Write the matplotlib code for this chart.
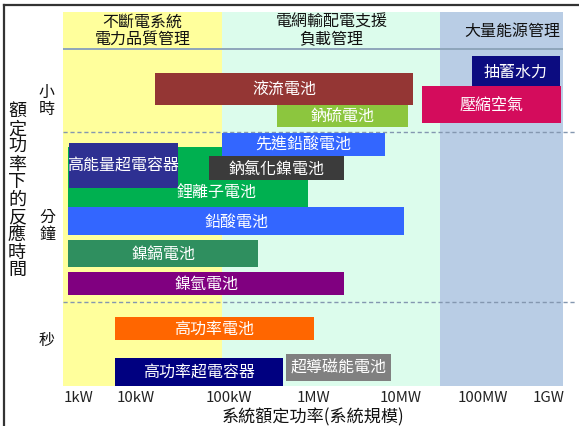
import numpy as np
import matplotlib

matplotlib.use("Agg")
import matplotlib.pyplot as plt
from matplotlib.lines import Line2D

plt.rcParams["font.family"] = ["Noto Sans CJK TC", "DejaVu Sans"]

# Technologies: name, rated power range (W), bar colour
names = [
    "液流電池", "鈉硫電池", "抽蓄水力", "壓縮空氣",
    "鋰離子電池", "高能量超電容器", "先進鉛酸電池", "鈉氯化鎳電池",
    "鉛酸電池", "鎳鎘電池", "鎳氫電池",
    "高功率電池", "高功率超電容器", "超導磁能電池",
]
p_min_w = [16e3, 370e3, 73e6, 18e6,
           680, 700, 84e3, 61e3,
           680, 680, 680,
           4.3e3, 4.3e3, 480e3]
p_max_w = [14e6, 12e6, 1.47e9, 1.5e9,
           870e3, 28e3, 6.6e6, 2.25e6,
           11e6, 220e3, 2.25e6,
           1.03e6, 440e3, 7.7e6]
colors = ["#943634", "#8cc63e", "#0c0c80", "#d40c5c",
          "#00b050", "#2e3092", "#3366ff", "#3b3b3b",
          "#3366ff", "#2f8f5f", "#800080",
          "#ff6600", "#000080", "#808080"]

# vertical lanes (top, bottom) on the response-time axis, top = 13, bottom = 387
lane_top = [74, 106, 57, 87, 148, 144, 134, 157, 208, 241, 273, 318, 359, 355]
lane_bot = [106, 128, 87, 124, 208, 189, 157, 181, 236, 268, 296, 341, 387, 382]

tick_w = [1e3, 1e4, 1e5, 1e6, 1e7, 1e8, 1e9]
tick_labels = ["1kW", "10kW", "100kW", "1MW", "10MW", "100MW", "1GW"]

# application zones along the power axis
zone_edges_w = [550, 85e3, 3e7, 1.63e9]
zone_colors = ["#ffff9c", "#dcfcec", "#b9cde5"]
zone_titles = ["不斷電系統\n電力品質管理", "電網輸配電支援\n負載管理", "大量能源管理"]
title_shift = [0, 0, 11]

band_labels = ["小\n時", "分\n鐘", "秒"]
band_y = [101, 226, 341]

# decades are not evenly spaced on this axis: log10(W) -> position along axis
DECADES = np.arange(2, 11)
DECADE_POS = np.array([20, 78, 136, 229, 313, 401, 483, 549, 615], dtype=float)


def fwd(x):
    x = np.maximum(np.asarray(x, dtype=float), 1e-12)
    return np.interp(np.log10(x), DECADES, DECADE_POS)


def inv(p):
    return 10 ** np.interp(np.asarray(p, dtype=float), DECADE_POS, DECADES)


def mid(lo, hi, shift=0):
    return inv((fwd(lo) + fwd(hi)) / 2 + shift)


fig = plt.figure(figsize=(5.79, 4.27), dpi=100)
ax = fig.add_axes([63 / 579, 40 / 427, 500 / 579, 374 / 427])
ax.set_xscale("function", functions=(fwd, inv))
ax.set_xlim(zone_edges_w[0], zone_edges_w[-1])
ax.set_ylim(387, 13)

for lo, hi, c in zip(zone_edges_w[:-1], zone_edges_w[1:], zone_colors):
    ax.axvspan(lo, hi, color=c, lw=0, zorder=0)

# header strip
ax.axhline(50, color="#8ea5ba", lw=1.4, zorder=1)
for i, title in enumerate(zone_titles):
    lo, hi = zone_edges_w[i], zone_edges_w[i + 1]
    ax.text(mid(lo, hi, title_shift[i]), 31, title, ha="center", va="center",
            fontsize=11.5, linespacing=1.05, color="#111111")

# dashed separators between hours / minutes / seconds
for y in (133, 303):
    ax.axhline(y, xmin=0, xmax=1.024, color="#8497b0", lw=1.0,
               ls=(0, (3, 2)), clip_on=False, zorder=1)

for i, name in enumerate(names):
    lo, hi = p_min_w[i], p_max_w[i]
    top, bot = lane_top[i], lane_bot[i]
    ax.barh((top + bot) / 2, hi - lo, left=lo, height=bot - top,
            color=colors[i], lw=0, zorder=2 + i * 0.01)
    tx, ty = mid(lo, hi), (top + bot) / 2
    if name == "鋰離子電池":
        # label sits in the part of the bar left uncovered
        tx, ty = 74e3, 192
    ax.text(tx, ty, name, ha="center", va="center", color="white",
            fontsize=11.5, zorder=3)

ax.set_xticks(tick_w)
ax.set_xticklabels(tick_labels)
ax.minorticks_off()
ax.tick_params(axis="x", length=0, pad=3, labelsize=10.8, labelcolor="#222222")
ax.set_yticks([])
for s in ax.spines.values():
    s.set_visible(False)

ax.set_xlabel("系統額定功率(系統規模)", fontsize=12.3, color="#111111", labelpad=2)

ytr = ax.get_yaxis_transform()
for lab, y in zip(band_labels, band_y):
    ax.text(-0.032, y, lab, transform=ytr, ha="center", va="center",
            fontsize=11.5, linespacing=1.0, color="#111111")
ax.text(-0.092, 191, "\n".join("額定功率下的反應時間"), transform=ytr,
        ha="center", va="center", fontsize=13, linespacing=0.97, color="#111111")

# frame edges
fig.add_artist(Line2D([4 / 579, 1], [1 - 6 / 427] * 2, color="#333333", lw=1.6))
fig.add_artist(Line2D([4 / 579] * 2, [0, 1 - 6 / 427], color="#333333", lw=1.6))

fig.savefig("out.png", dpi=100)
